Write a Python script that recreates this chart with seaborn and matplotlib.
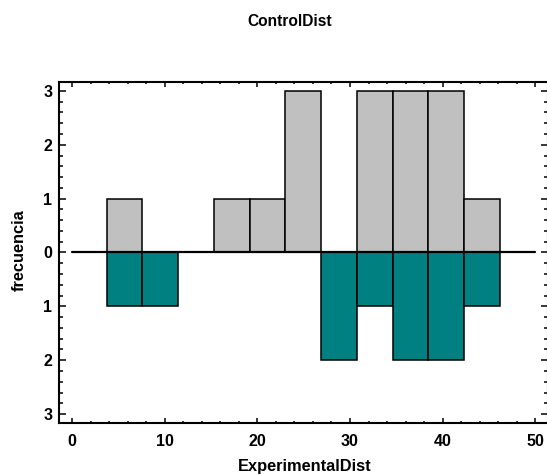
import matplotlib
matplotlib.use("Agg")
import matplotlib.pyplot as plt
import matplotlib.ticker as mticker
import numpy as np
import pandas as pd
import seaborn as sns

# ---- data ----
bin_start = 3.74
bin_width = 3.857
control_counts = [1, 0, 0, 1, 1, 3, 0, 3, 3, 3, 1]
experimental_counts = [1, 1, 0, 0, 0, 0, 2, 1, 2, 2, 1]
x_ticks = [0, 10, 20, 30, 40, 50]
y_ticks = [-3, -2, -1, 0, 1, 2, 3]

title_text = "ControlDist"
xlabel_text = "ExperimentalDist"
ylabel_text = "frecuencia"

n_bins = len(control_counts)
edges = bin_start + bin_width * np.arange(n_bins + 1)
centers = (edges[:-1] + edges[1:]) / 2
df = pd.DataFrame({
    "center": centers,
    "control": np.array(control_counts, dtype=float),
    "experimental": -np.array(experimental_counts, dtype=float),
})

sns.set_theme(style="white")
plt.rcParams['font.family'] = ['Liberation Sans', 'DejaVu Sans']
plt.rcParams['font.weight'] = 'bold'
plt.rcParams['text.color'] = 'black'
plt.rcParams['xtick.color'] = 'black'
plt.rcParams['ytick.color'] = 'black'

W, H = 547, 475
fig = plt.figure(figsize=(W / 100, H / 100), dpi=100)
L, R, T, B = 59.3, 547.8, 81.7, 422.7
ax = fig.add_axes([L / W, 1 - B / H, (R - L) / W, (B - T) / H])

brange = (float(edges[0]), float(edges[-1]))
sns.histplot(data=df, x="center", weights="control", binwidth=bin_width, binrange=brange,
             ax=ax, color="#C0C0C0", alpha=1, edgecolor="black", linewidth=1.1)
sns.histplot(data=df, x="center", weights="experimental", binwidth=bin_width, binrange=brange,
             ax=ax, color="#008080", alpha=1, edgecolor="black", linewidth=1.1)

ax.plot([0, 50], [0, 0], color="black", lw=1.6, zorder=5)

ax.set_xlim(-1.37, 51.35)
ax.set_ylim(-3.16, 3.17)
ax.set_xticks(x_ticks)
ax.set_yticks(y_ticks)
ax.xaxis.set_minor_locator(mticker.MultipleLocator(2))
ax.yaxis.set_minor_locator(mticker.MultipleLocator(0.2))
ax.yaxis.set_major_formatter(mticker.FuncFormatter(lambda v, p: f"{abs(int(round(v)))}"))

ax.tick_params(axis='x', which='major', direction='in', length=3.3, width=1.1,
               top=True, bottom=True, labelsize=11.5, pad=8, colors='black')
ax.tick_params(axis='x', which='minor', direction='in', length=1.7, width=1.1,
               top=True, bottom=True, colors='black')
ax.tick_params(axis='y', which='major', direction='in', length=5, width=1.1,
               left=True, right=True, labelsize=11.5, pad=5, colors='black')
ax.tick_params(axis='y', which='minor', direction='in', length=3, width=1.1,
               left=True, right=True, colors='black')
for lab in ax.get_xticklabels() + ax.get_yticklabels():
    lab.set_fontweight('bold')
    lab.set_color('black')

for s in ax.spines.values():
    s.set_color('black')
    s.set_linewidth(1.5)

ax.set_xlabel("")
ax.set_ylabel("")
fig.text(290 / W, 1 - 22 / H, title_text, ha='center', va='center',
         fontsize=11.2, fontweight='bold', color='black')
fig.text(305 / W, 1 - 466 / H, xlabel_text, ha='center', va='center',
         fontsize=11.8, fontweight='bold', color='black')
fig.text(19.5 / W, 1 - 250 / H, ylabel_text, ha='center', va='center',
         rotation=90, fontsize=11.8, fontweight='bold', color='black')

fig.savefig("out.png", dpi=100)
